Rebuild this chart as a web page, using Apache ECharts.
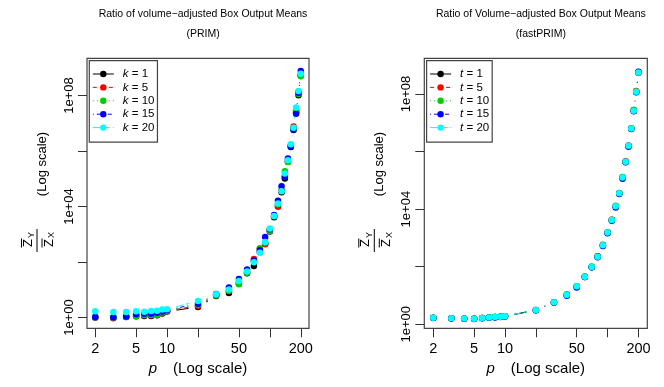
<!DOCTYPE html>
<html>
<head>
<meta charset="utf-8">
<script src="https://cdn.jsdelivr.net/npm/echarts@6/dist/echarts.min.js"></script>
<style>
html, body { margin: 0; padding: 0; background: #fff; }
#chart { width: 664px; height: 387px; }
</style>
</head>
<body>
<div id="chart"></div>
<script>
// number of variables p (x axis)
var pValues = [2,3,4,5,6,7,8,9,10,20,30,40,50,60,70,80,90,100,110,120,130,140,150,160,170,180,190,200];

// log10 of the ratio
var primK1  = [0.00,-0.01,0.02,0.05,0.06,0.06,0.08,0.15,0.22,0.38,0.78,0.89,1.22,1.60,1.86,2.36,2.66,3.10,3.62,4.02,4.52,5.01,5.62,6.15,6.76,7.40,8.01,8.72];
var primK5  = [0.00,-0.02,0.03,0.06,0.08,0.08,0.09,0.17,0.24,0.43,0.82,0.95,1.28,1.64,2.11,2.49,2.64,3.14,3.65,3.99,4.58,5.10,5.64,6.20,6.89,7.45,8.12,8.75];
var primK10 = [0.01,0.00,0.03,0.05,0.09,0.09,0.10,0.18,0.25,0.46,0.80,0.97,1.20,1.62,2.02,2.49,2.70,3.12,3.67,4.08,4.60,5.27,5.61,6.21,6.82,7.47,8.06,8.70];
var primK15 = [0.02,0.01,0.04,0.12,0.14,0.14,0.17,0.22,0.27,0.50,0.85,1.08,1.39,1.73,2.06,2.43,2.90,3.18,3.70,4.21,4.73,5.07,5.73,6.17,6.79,7.35,8.10,8.89];
var primK20 = [0.23,0.20,0.20,0.23,0.21,0.24,0.25,0.29,0.30,0.60,0.84,1.01,1.32,1.66,1.99,2.34,2.72,3.21,3.66,4.11,4.55,5.19,5.67,6.25,6.84,7.57,8.17,8.79];

// log10 of the ratio
var fastT1  = [0.23,0.21,0.19,0.19,0.22,0.24,0.25,0.26,0.28,0.49,0.76,1.01,1.31,1.64,1.98,2.36,2.74,3.18,3.62,4.09,4.55,5.09,5.64,6.19,6.80,7.44,8.07,8.74];
var fastT5  = [0.23,0.21,0.20,0.19,0.22,0.24,0.25,0.26,0.28,0.50,0.77,1.02,1.32,1.66,1.99,2.34,2.76,3.19,3.63,4.10,4.56,5.11,5.66,6.21,6.80,7.41,8.10,8.75];
var fastT10 = [0.23,0.21,0.20,0.19,0.22,0.24,0.25,0.26,0.28,0.50,0.77,1.04,1.31,1.65,2.01,2.35,2.75,3.20,3.63,4.12,4.55,5.12,5.65,6.20,6.81,7.44,8.09,8.76];
var fastT15 = [0.22,0.20,0.19,0.18,0.21,0.23,0.24,0.25,0.27,0.49,0.76,0.99,1.28,1.64,1.98,2.33,2.72,3.16,3.60,4.06,4.53,5.06,5.63,6.17,6.78,7.40,8.06,8.77];
var fastT20 = [0.23,0.21,0.20,0.19,0.22,0.24,0.25,0.26,0.28,0.50,0.77,1.02,1.32,1.65,1.99,2.35,2.75,3.19,3.62,4.10,4.55,5.10,5.65,6.20,6.80,7.42,8.08,8.75];

var primNames = ['k = 1','k = 5','k = 10','k = 15','k = 20'];
var fastNames = ['t = 1','t = 5','t = 10','t = 15','t = 20'];
var colors = ['#000000','#FF0000','#00CD00','#0000FF','#00FFFF'];
var dashes = [null,[4,4],[1,3],[1,3,4,3],[7,3]];

var xTicks = [2,5,10,20,50,100,200];
var xTickLabels = [2,5,10,50,200];
var yTicks = [1,1e2,1e4,1e6,1e8];
var yTickLabels = [1,1e4,1e8];

var panels = [
  {left: 87, width: 222, xmin: 1.663, xmax: 240.4, ymin: Math.pow(10,-0.386), ymax: Math.pow(10,9.344),
   title: 'Ratio of volume\u2212adjusted Box Output Means', sub: '(PRIM)',
   names: primNames, data: [primK1, primK5, primK10, primK15, primK20]},
  {left: 424.3, width: 223, xmin: 1.634, xmax: 243.8, ymin: Math.pow(10,-0.139), ymax: Math.pow(10,9.24),
   title: 'Ratio of Volume\u2212adjusted Box Output Means', sub: '(fastPRIM)',
   names: fastNames, data: [fastT1, fastT5, fastT10, fastT15, fastT20]}
];

var FONT = 'Liberation Sans, Arial, sans-serif';
var chart = echarts.init(document.getElementById('chart'));

var grids = [], xAxes = [], yAxes = [], series = [], legends = [], titles = [], graphics = [];

function toPoints(logs) {
  return pValues.map(function (p, i) { return [p, Math.pow(10, logs[i])]; });
}

// R type="b": segments between points, cut back near each point
function gapSeries(pts, color, dash, idx) {
  var segs = [];
  for (var i = 0; i < pts.length - 1; i++) {
    segs.push([pts[i][0], pts[i][1], pts[i + 1][0], pts[i + 1][1]]);
  }
  return {
    type: 'custom', xAxisIndex: idx, yAxisIndex: idx, silent: true, z: 2,
    data: segs,
    renderItem: function (params, api) {
      var a = api.coord([api.value(0), api.value(1)]);
      var b = api.coord([api.value(2), api.value(3)]);
      var dx = b[0] - a[0], dy = b[1] - a[1];
      var d = Math.sqrt(dx * dx + dy * dy);
      var gap = 9.5;
      if (d <= 2 * gap) return null;
      var ux = dx / d, uy = dy / d;
      return {
        type: 'line',
        shape: {x1: a[0] + ux * gap, y1: a[1] + uy * gap, x2: b[0] - ux * gap, y2: b[1] - uy * gap},
        style: {stroke: color, lineWidth: 1, lineDash: dash}
      };
    }
  };
}

function yTitle(cx) {
  var line = function (x1, y1, x2, y2) {
    return {type: 'line', shape: {x1: x1, y1: y1, x2: x2, y2: y2}, style: {stroke: '#000', lineWidth: 1}};
  };
  var txt = function (s, x, y, size) {
    return {type: 'text', x: x, y: y, style: {text: s, font: size + 'px ' + FONT, fill: '#000', align: 'center', verticalAlign: 'middle'}};
  };
  return [
    {
      type: 'group', x: cx, y: 240, rotation: Math.PI / 2,
      children: [
        txt('Z', -3, -8.5, 13), txt('Y', 5, -5, 9), line(-7.5, -15.5, 1.5, -15.5),
        line(-12, 0, 11, 0),
        txt('Z', -3, 12, 13), txt('X', 5, 15, 9), line(-7.5, 5, 1.5, 5)
      ]
    },
    {
      type: 'text', x: cx + 5, y: 164, rotation: Math.PI / 2,
      style: {text: '(Log scale)', font: '13px ' + FONT, fill: '#000', align: 'center', verticalAlign: 'middle'}
    }
  ];
}

panels.forEach(function (pn, idx) {
  grids.push({left: pn.left, top: 58.3, width: pn.width, height: 270, show: true,
    borderColor: '#444', borderWidth: 1.2, backgroundColor: 'transparent'});
  xAxes.push({
    type: 'log', gridIndex: idx, min: pn.xmin, max: pn.xmax,
    axisLine: {show: false}, splitLine: {show: false}, minorTick: {show: false},
    axisTick: {show: true, inside: false, length: 9, lineStyle: {color: '#333', width: 1}, customValues: xTicks},
    axisLabel: {customValues: xTickLabels, margin: 13, color: '#000', fontSize: 14.5, fontFamily: FONT,
      formatter: function (v) { return String(Math.round(v)); }},
    name: '{i|p}{n|(Log scale)}', nameLocation: 'middle', nameGap: 28,
    nameTextStyle: {rich: {
      i: {fontStyle: 'italic', fontSize: 15, fontFamily: FONT, color: '#000', padding: [0, 16, 0, 0]},
      n: {fontSize: 15, fontFamily: FONT, color: '#000'}
    }}
  });
  yAxes.push({
    type: 'log', gridIndex: idx, min: pn.ymin, max: pn.ymax,
    axisLine: {show: false}, splitLine: {show: false}, minorTick: {show: false},
    axisTick: {show: true, inside: false, length: 9, lineStyle: {color: '#333', width: 1}, customValues: yTicks},
    axisLabel: {customValues: yTickLabels, rotate: 90, margin: 11, color: '#000', fontSize: 13, fontFamily: FONT,
      formatter: function (v) {
        var e = Math.round(Math.log(v) / Math.LN10);
        return '1e+' + (e < 10 ? '0' + e : e);
      }}
  });
  var legendData = [];
  pn.data.forEach(function (logs, k) {
    var pts = toPoints(logs);
    series.push(gapSeries(pts, colors[k], dashes[k], idx));
    series.push({
      type: 'line', name: pn.names[k], xAxisIndex: idx, yAxisIndex: idx, data: pts, z: 3,
      symbol: 'circle', symbolSize: 6.5, showSymbol: true, animation: false,
      itemStyle: {color: colors[k]},
      lineStyle: {width: 0, opacity: 0, color: colors[k]}
    });
    legendData.push({
      name: pn.names[k],
      itemStyle: {color: colors[k]},
      lineStyle: {color: colors[k], width: 1, opacity: 1, type: dashes[k] || 'solid'}
    });
  });
  legends.push({
    data: legendData, orient: 'vertical', left: pn.left + 2.3, top: 60.7,
    padding: [6.6, 3, 7.9, 3], itemWidth: 21, itemHeight: 8, itemGap: 0,
    borderColor: '#444', borderWidth: 1.2, backgroundColor: '#fff',
    selectedMode: false,
    formatter: function (name) { return '{i|' + name.charAt(0) + '}' + name.slice(1); },
    textStyle: {fontSize: 11.5, fontFamily: FONT, color: '#000', padding: [0, 0, 0, 4], lineHeight: 13.4,
      rich: {i: {fontStyle: 'italic', fontSize: 11.5, fontFamily: FONT, color: '#000', lineHeight: 13.4}}}
  });
  var cx = pn.left + pn.width / 2;
  titles.push({text: pn.title, left: cx, top: 4, textAlign: 'center',
    textStyle: {fontSize: 10.5, fontWeight: 'normal', fontFamily: FONT, color: '#000'}});
  titles.push({text: pn.sub, left: cx, top: 24, textAlign: 'center',
    textStyle: {fontSize: 10.5, fontWeight: 'normal', fontFamily: FONT, color: '#000'}});
  graphics = graphics.concat(yTitle(pn.left - 50));
});

chart.setOption({
  animation: false,
  backgroundColor: '#fff',
  title: titles,
  grid: grids,
  xAxis: xAxes,
  yAxis: yAxes,
  legend: legends,
  series: series,
  graphic: graphics
});
</script>
</body>
</html>
